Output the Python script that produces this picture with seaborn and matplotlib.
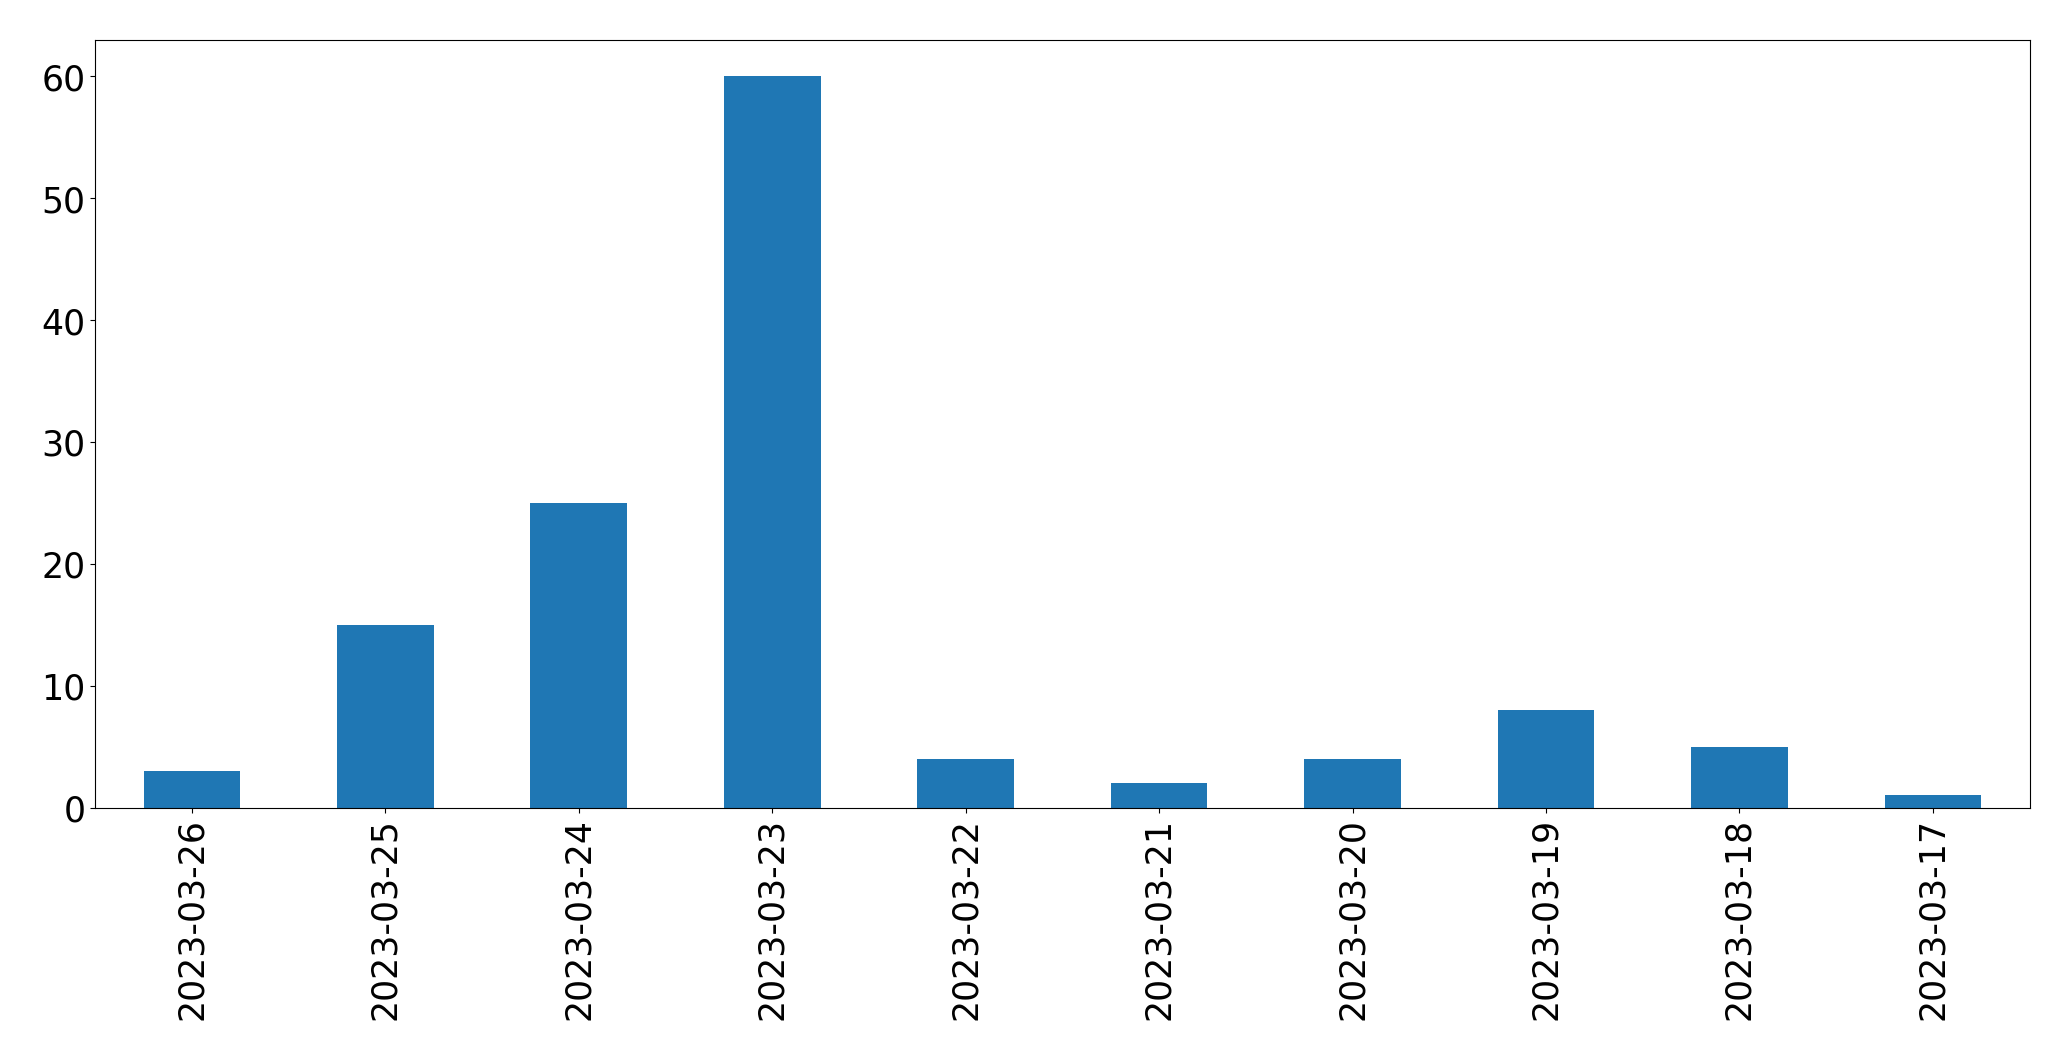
import matplotlib
matplotlib.use("Agg")
import matplotlib.pyplot as plt
import seaborn as sns
import pandas as pd

# daily counts, newest first (as in the original)
dates = ["2023-03-26", "2023-03-25", "2023-03-24", "2023-03-23", "2023-03-22",
         "2023-03-21", "2023-03-20", "2023-03-19", "2023-03-18", "2023-03-17"]
counts = [3, 15, 25, 60, 4, 2, 4, 8, 5, 1]

df = pd.DataFrame({"date": dates, "count": counts})

fig, ax = plt.subplots(figsize=(20.71, 10.605), dpi=100)
sns.barplot(data=df, x="date", y="count", order=dates, color="#1f77b4",
            saturation=1, width=0.5, linewidth=0, ax=ax)

ax.set_xlim(-0.5, len(dates) - 0.5)
ax.set_xlabel("")
ax.set_ylabel("")
ax.tick_params(axis="x", labelrotation=90, labelsize=25)
ax.tick_params(axis="y", labelsize=25)

fig.subplots_adjust(left=0.046, right=0.980, top=0.962, bottom=0.238)
fig.savefig("out.png", dpi=100)
plt.close(fig)
